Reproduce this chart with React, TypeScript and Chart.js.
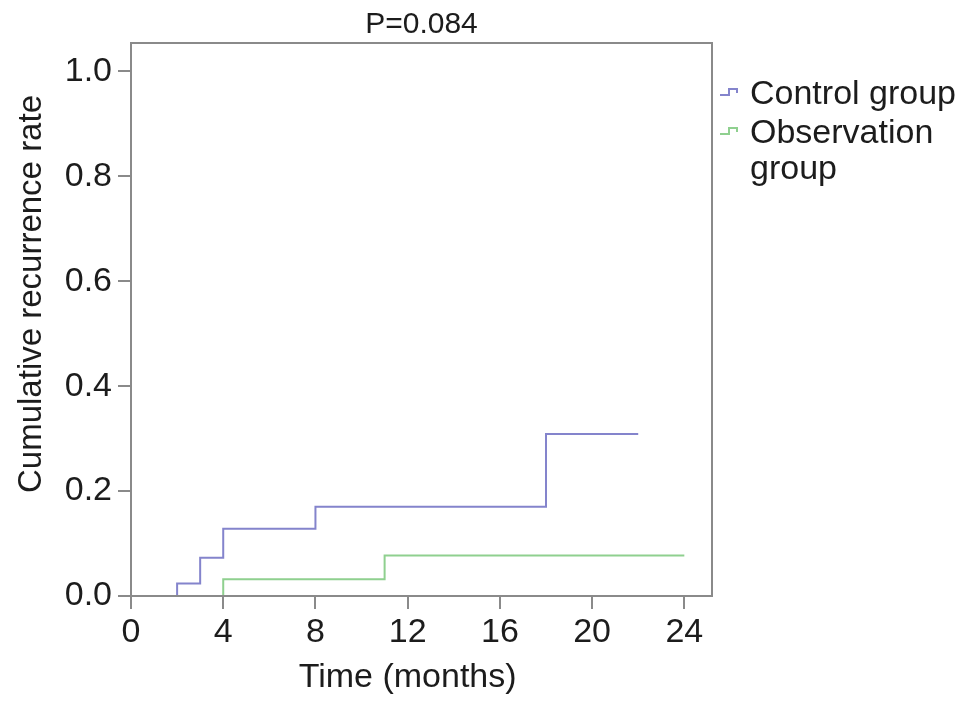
import { useEffect, useRef } from "react";
import { Chart, registerables } from "chart.js";

Chart.register(...registerables);

// ---- Data ----
const chartTitle = "P=0.084";
const xAxisTitle = "Time (months)";
const yAxisTitle = "Cumulative recurrence rate";
const seriesNames = ["Control group", "Observation group"];
const legendLines = [["Control group"], ["Observation", "group"]];

const controlTimes = [0, 2, 3, 4, 8, 18, 22];
const controlRates = [0, 0.024, 0.073, 0.128, 0.17, 0.309, 0.309];

const observationTimes = [0, 4, 11, 24];
const observationRates = [0, 0.032, 0.077, 0.077];

const xTickStep = 4;
const xMin = 0;
const xMax = 25.2;
const xDataEnd = 24;
const yTickStep = 0.2;
const yMin = 0;
const yMax = 1.054;

// ---- Styles ----
const FONT = '"Liberation Sans", Arial, Helvetica, sans-serif';
const TEXT = "#1c1c1c";
const FRAME = "#8a8a8a";
const seriesColors = ["#8484cc", "#8fd08f"];
const LABEL_SIZE = 34;

const toPoints = (xs: number[], ys: number[]) => xs.map((x, i) => ({ x, y: ys[i] }));

const decorPlugin = {
  id: "decor",
  afterDatasetsDraw(chart: any) {
    const { ctx, chartArea: a } = chart;
    ctx.save();
    ctx.strokeStyle = FRAME;
    ctx.lineWidth = 2;
    ctx.strokeRect(a.left, a.top, a.right - a.left, a.bottom - a.top);
    ctx.restore();
  },
  afterDraw(chart: any) {
    const { ctx, chartArea: a, scales } = chart;
    ctx.save();
    ctx.fillStyle = TEXT;
    ctx.textBaseline = "alphabetic";

    // Title
    ctx.font = `30px ${FONT}`;
    ctx.textAlign = "center";
    ctx.fillText(chartTitle, (a.left + a.right) / 2, a.top - 10);

    // X title, centred on the data span
    ctx.font = `${LABEL_SIZE}px ${FONT}`;
    const xs = scales.x;
    const xc = (xs.getPixelForValue(xMin) + xs.getPixelForValue(xDataEnd)) / 2;
    ctx.fillText(xAxisTitle, xc, a.bottom + 91);

    // Y title
    ctx.save();
    ctx.font = `33px ${FONT}`;
    ctx.translate(41, a.top + 251);
    ctx.rotate(-Math.PI / 2);
    ctx.textAlign = "center";
    ctx.fillText(yAxisTitle, 0, 0);
    ctx.restore();

    // Legend
    const gx = a.right + 8;
    const tx = a.right + 38;
    const baselines = [[104], [143, 179]];
    chart.data.datasets.forEach((ds: any, i: number) => {
      const b0 = baselines[i][0];
      ctx.strokeStyle = ds.borderColor;
      ctx.lineWidth = 2;
      ctx.beginPath();
      ctx.moveTo(gx, b0 - 9);
      ctx.lineTo(gx + 9, b0 - 9);
      ctx.lineTo(gx + 9, b0 - 15);
      ctx.lineTo(gx + 17, b0 - 15);
      ctx.lineTo(gx + 17, b0 - 11);
      ctx.stroke();
      ctx.fillStyle = TEXT;
      ctx.textAlign = "left";
      ctx.font = `${LABEL_SIZE}px ${FONT}`;
      legendLines[i].forEach((line, j) => {
        ctx.fillText(line, tx, baselines[i][j]);
      });
    });
    ctx.restore();
  },
};

export default function App() {
  const canvasRef = useRef<HTMLCanvasElement | null>(null);

  useEffect(() => {
    if (!canvasRef.current) return;
    Chart.defaults.font.family = FONT;
    const chart = new Chart(canvasRef.current, {
      type: "line",
      data: {
        datasets: [
          {
            label: seriesNames[0],
            data: toPoints(controlTimes, controlRates),
            borderColor: seriesColors[0],
            backgroundColor: seriesColors[0],
            borderWidth: 2,
            stepped: true,
            pointRadius: 0,
            fill: false,
          },
          {
            label: seriesNames[1],
            data: toPoints(observationTimes, observationRates),
            borderColor: seriesColors[1],
            backgroundColor: seriesColors[1],
            borderWidth: 2,
            stepped: true,
            pointRadius: 0,
            fill: false,
          },
        ],
      },
      options: {
        animation: false,
        responsive: false,
        devicePixelRatio: 1,
        events: [],
        layout: { padding: { left: 0, top: 43, right: 257, bottom: 0 } },
        plugins: {
          legend: { display: false },
          title: { display: false },
          tooltip: { enabled: false },
        },
        scales: {
          x: {
            type: "linear",
            min: xMin,
            max: xMax,
            border: { display: false },
            grid: {
              display: true,
              drawOnChartArea: false,
              drawTicks: true,
              tickLength: 13,
              color: FRAME,
              lineWidth: 2,
            },
            ticks: {
              stepSize: xTickStep,
              includeBounds: false,
              padding: 3,
              color: TEXT,
              font: { size: LABEL_SIZE, family: FONT },
              maxRotation: 0,
            },
            afterFit(scale: any) {
              scale.height = 111;
            },
          },
          y: {
            type: "linear",
            min: yMin,
            max: yMax,
            border: { display: false },
            grid: {
              display: true,
              drawOnChartArea: false,
              drawTicks: true,
              tickLength: 13,
              color: FRAME,
              lineWidth: 2,
            },
            ticks: {
              stepSize: yTickStep,
              includeBounds: false,
              padding: 6,
              color: TEXT,
              font: { size: LABEL_SIZE, family: FONT },
              callback: (v: any) => Number(v).toFixed(1),
            },
            afterFit(scale: any) {
              scale.width = 131;
            },
          },
        },
      } as any,
      plugins: [decorPlugin],
    });
    return () => chart.destroy();
  }, []);

  return (
    <div style={{ position: "fixed", left: 0, top: 0, width: 969, height: 707, background: "#fff" }}>
      <canvas ref={canvasRef} width={969} height={707} style={{ width: 969, height: 707, display: "block" }} />
    </div>
  );
}
